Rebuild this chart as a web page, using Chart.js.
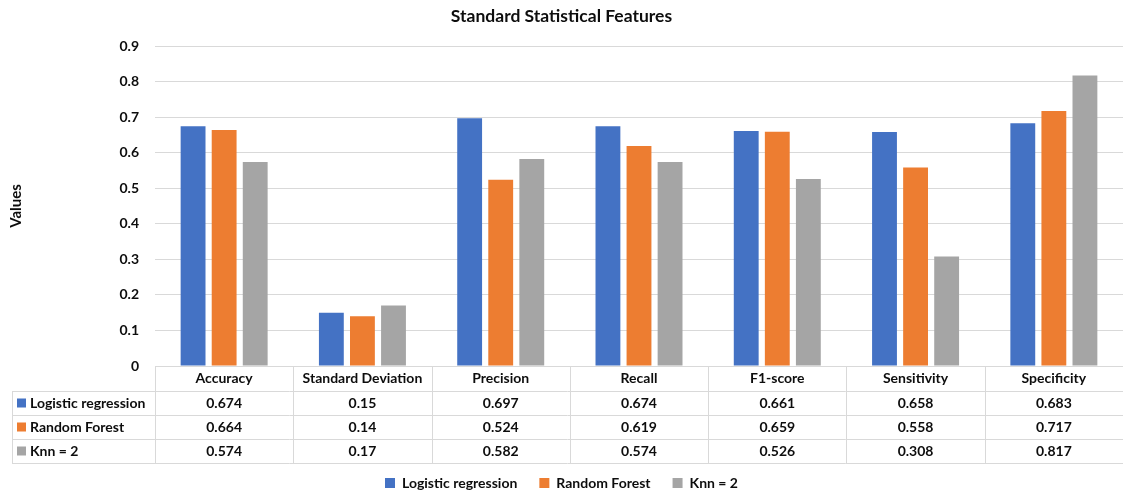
<!DOCTYPE html>
<html>
<head>
<meta charset="utf-8">
<title>Standard Statistical Features</title>
<script src="https://cdn.jsdelivr.net/npm/chart.js@4.4.1/dist/chart.umd.min.js"></script>
<style>
  html, body { margin: 0; padding: 0; background: #fff; }
  #wrap { width: 1123px; height: 493px; }
</style>
</head>
<body>
<div id="wrap"><canvas id="chart" width="1123" height="493"></canvas></div>
<script>
// -----------------------------
// Data
// -----------------------------
const categories = ['Accuracy', 'Standard Deviation', 'Precision', 'Recall', 'F1-score', 'Sensitivity', 'Specificity'];
const seriesNames = ['Logistic regression', 'Random Forest', 'Knn = 2'];
const logisticValues = [0.674, 0.15, 0.697, 0.674, 0.661, 0.658, 0.683];
const forestValues = [0.664, 0.14, 0.524, 0.619, 0.659, 0.558, 0.717];
const knnValues = [0.574, 0.17, 0.582, 0.574, 0.526, 0.308, 0.817];
const seriesColors = ['#4472C4', '#ED7D31', '#A5A5A5'];

const TEXT = '#0d0d0d';
const LINE = '#d9d9d9';
const FONT = 'Lato';

// -----------------------------
// Data table under the plot (Excel style)
// -----------------------------
const dataTablePlugin = {
  id: 'dataTable',
  afterDraw(chart) {
    const ctx = chart.ctx;
    const area = chart.chartArea;
    const x = chart.scales.x;
    const colW = area.width / categories.length;
    const tableLeft = 12;
    const headTop = area.bottom;
    const rowH = 24;
    const headBottom = headTop + 25;
    const tableBottom = headBottom + rowH * chart.data.datasets.length;

    ctx.save();
    ctx.strokeStyle = LINE;
    ctx.lineWidth = 1;
    ctx.beginPath();
    // horizontal lines
    ctx.moveTo(area.left, headTop + 0.5); ctx.lineTo(area.right, headTop + 0.5);
    for (let r = 0; r <= chart.data.datasets.length; r++) {
      const y = Math.round(headBottom + r * rowH) + 0.5;
      ctx.moveTo(tableLeft, y); ctx.lineTo(area.right, y);
    }
    // vertical lines
    ctx.moveTo(tableLeft + 0.5, headBottom); ctx.lineTo(tableLeft + 0.5, tableBottom);
    for (let i = 0; i <= categories.length; i++) {
      const cx = Math.round(area.left + i * colW) + 0.5;
      ctx.moveTo(cx, headTop); ctx.lineTo(cx, tableBottom);
    }
    ctx.stroke();

    ctx.font = 'bold 14px ' + FONT;
    ctx.textBaseline = 'middle';
    chart.data.datasets.forEach((ds, r) => {
      const cy = headBottom + r * rowH + rowH / 2;
      // row key + name
      ctx.fillStyle = ds.backgroundColor;
      ctx.fillRect(17, cy - 4.5, 9, 9);
      ctx.fillStyle = TEXT;
      ctx.textAlign = 'left';
      ctx.fillText(ds.label, 30, cy);
      // values
      ctx.textAlign = 'center';
      ds.data.forEach((v, i) => {
        ctx.fillText(String(v), x.getPixelForValue(i), cy);
      });
    });
    ctx.restore();
  }
};

// -----------------------------
// Chart
// -----------------------------
Chart.defaults.font.family = FONT;
Chart.defaults.color = TEXT;

new Chart(document.getElementById('chart').getContext('2d'), {
  type: 'bar',
  data: {
    labels: categories,
    datasets: [
      { label: seriesNames[0], data: logisticValues, backgroundColor: seriesColors[0] },
      { label: seriesNames[1], data: forestValues, backgroundColor: seriesColors[1] },
      { label: seriesNames[2], data: knnValues, backgroundColor: seriesColors[2] }
    ]
  },
  options: {
    responsive: false,
    animation: false,
    layout: { padding: { left: 0, right: 0, top: 0, bottom: -7 } },
    datasets: {
      bar: { categoryPercentage: 0.674, barPercentage: 0.8 }
    },
    plugins: {
      title: {
        display: true,
        text: 'Standard Statistical Features',
        color: TEXT,
        font: { size: 17.5, weight: 'bold' },
        padding: { top: 6, bottom: 19 }
      },
      legend: {
        position: 'bottom',
        labels: {
          boxWidth: 10,
          boxHeight: 10,
          padding: 22,
          color: TEXT,
          font: { size: 14, weight: 'bold' }
        }
      },
      tooltip: { enabled: false }
    },
    scales: {
      x: {
        grid: { display: false, drawTicks: false },
        border: { display: false },
        ticks: {
          color: TEXT,
          font: { size: 14, weight: 'bold' },
          padding: 4,
          maxRotation: 0,
          autoSkip: false
        },
        afterFit(scale) { scale.height = 88; }
      },
      y: {
        min: 0,
        max: 0.9,
        grid: { color: LINE, drawTicks: false },
        border: { display: false },
        ticks: {
          stepSize: 0.1,
          padding: 16,
          color: TEXT,
          font: { size: 14, weight: 'bold' },
          callback: v => (Math.round(v * 10) / 10).toString()
        },
        title: {
          display: true,
          text: 'Values',
          color: TEXT,
          font: { size: 15, weight: 'bold' },
          padding: { top: 7, bottom: 0 }
        },
        afterFit(scale) { scale.width = 155; }
      }
    }
  },
  plugins: [dataTablePlugin]
});
</script>
</body>
</html>
